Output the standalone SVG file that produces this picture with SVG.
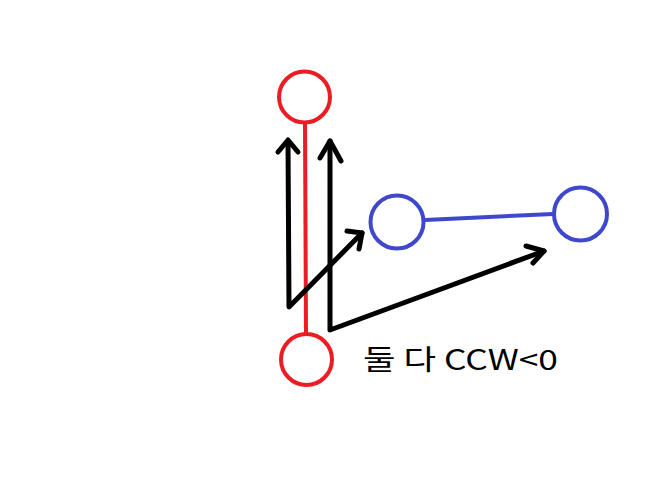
<svg xmlns="http://www.w3.org/2000/svg" width="663" height="487" viewBox="0 0 663 487">
<style>
.red{fill:none;stroke:#ed1c24;stroke-width:4}
.blue{fill:none;stroke:#3f48cc;stroke-width:4}
.blk{fill:none;stroke:#000;stroke-width:5;stroke-linecap:round;stroke-linejoin:round}
text{font-family:"Noto Sans CJK KR","Noto Sans",sans-serif;font-size:28px;fill:#000}
</style>
<rect width="663" height="487" fill="#fff"/>
<g id="connectors">
<line class="red" x1="305" y1="124" x2="306" y2="333"/>
<line class="blue" x1="425" y1="220" x2="553" y2="214"/>
<polyline class="blk" points="288,141 289,307 362,233"/>
<polyline class="blk" points="278,152 288,140 298,152"/>
<polyline class="blk" points="347,231 362,233 359,249"/>
<polyline class="blk" points="330,141 330,330 544,251"/>
<polyline class="blk" points="320,158 330,141 341,161"/>
<polyline class="blk" points="526,246 544,251 533,263"/>
</g>
<g id="red-top"><circle class="red" cx="304.5" cy="97" r="25.5"/></g>
<g id="red-bottom"><circle class="red" cx="306.5" cy="359.5" r="25.5"/></g>
<g id="blue-left"><circle class="blue" cx="397" cy="222" r="26.5"/></g>
<g id="blue-right"><circle class="blue" cx="580.5" cy="214" r="26.5"/></g>
<g id="label"><text x="363" y="370" textLength="195" lengthAdjust="spacingAndGlyphs">둘 다 CCW&lt;0</text></g>
</svg>
